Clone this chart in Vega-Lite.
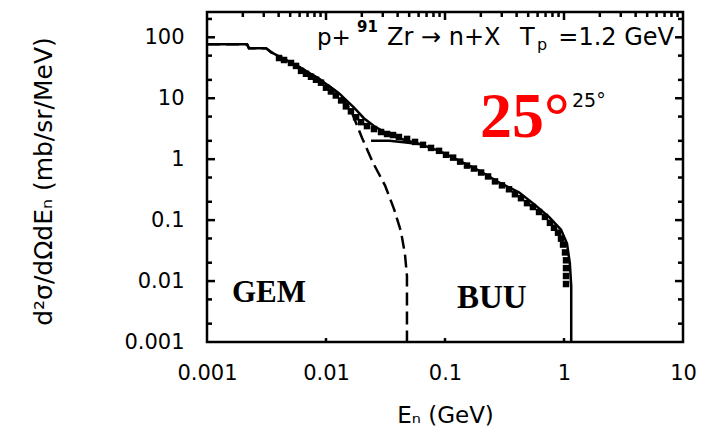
{
  "$schema": "https://vega.github.io/schema/vega-lite/v6.json",
  "autosize": "none",
  "width": 476,
  "height": 330,
  "padding": {"left": 207, "top": 12, "right": 20, "bottom": 87},
  "background": "white",
  "config": {
    "view": {"stroke": "black", "strokeWidth": 2.5},
    "axis": {"grid": false, "domain": false, "labelFont": "DejaVu Sans", "labelFontSize": 21, "labelColor": "black", "titleFont": "DejaVu Sans", "titleFontSize": 23, "titleFontWeight": "normal", "titleColor": "black"}
  },
  "datasets": {
    "exp": [
      {"E": 0.00403, "s": 45.7}, {"E": 0.00444, "s": 42.4}, {"E": 0.00508, "s": 37.9}, {"E": 0.0056, "s": 33.9},
      {"E": 0.00617, "s": 28.1}, {"E": 0.00679, "s": 25.2}, {"E": 0.00748, "s": 22.5}, {"E": 0.00824, "s": 20.1},
      {"E": 0.00908, "s": 18.0}, {"E": 0.01, "s": 14.9}, {"E": 0.011, "s": 12.9}, {"E": 0.0121, "s": 11.1},
      {"E": 0.0134, "s": 9.2}, {"E": 0.0147, "s": 7.35}, {"E": 0.0162, "s": 6.1}, {"E": 0.0179, "s": 4.88},
      {"E": 0.0197, "s": 4.05}, {"E": 0.0221, "s": 3.49}, {"E": 0.0253, "s": 3.12}, {"E": 0.029, "s": 2.79},
      {"E": 0.0326, "s": 2.59}, {"E": 0.0366, "s": 2.49}, {"E": 0.041, "s": 2.31}, {"E": 0.048, "s": 2.15},
      {"E": 0.056, "s": 1.92}, {"E": 0.0653, "s": 1.72}, {"E": 0.0763, "s": 1.53}, {"E": 0.0891, "s": 1.37},
      {"E": 0.102, "s": 1.18}, {"E": 0.117, "s": 1.06}, {"E": 0.134, "s": 0.912}, {"E": 0.153, "s": 0.785},
      {"E": 0.175, "s": 0.702}, {"E": 0.201, "s": 0.604}, {"E": 0.23, "s": 0.521}, {"E": 0.263, "s": 0.432},
      {"E": 0.301, "s": 0.372}, {"E": 0.345, "s": 0.321}, {"E": 0.387, "s": 0.266}, {"E": 0.435, "s": 0.229},
      {"E": 0.489, "s": 0.19}, {"E": 0.548, "s": 0.164}, {"E": 0.617, "s": 0.136}, {"E": 0.692, "s": 0.113},
      {"E": 0.762, "s": 0.0902}, {"E": 0.824, "s": 0.0748}, {"E": 0.891, "s": 0.0622}, {"E": 0.944, "s": 0.0497},
      {"E": 0.982, "s": 0.0397}, {"E": 1.02, "s": 0.0295}, {"E": 1.04, "s": 0.0219}, {"E": 1.04, "s": 0.0163},
      {"E": 1.04, "s": 0.0121}, {"E": 1.04, "s": 0.00894}
    ],
    "total": [
      {"E": 0.001, "s": 77.1}, {"E": 0.00217, "s": 77}, {"E": 0.00225, "s": 66.4}, {"E": 0.00313, "s": 66.4},
      {"E": 0.00345, "s": 57.2}, {"E": 0.00444, "s": 44.0}, {"E": 0.00593, "s": 32.7}, {"E": 0.00873, "s": 20.9},
      {"E": 0.0129, "s": 12.0}, {"E": 0.0172, "s": 7.0}, {"E": 0.0208, "s": 4.7}, {"E": 0.0253, "s": 3.5},
      {"E": 0.0307, "s": 2.8}, {"E": 0.041, "s": 2.2}, {"E": 0.0605, "s": 1.78}, {"E": 0.0891, "s": 1.37},
      {"E": 0.131, "s": 0.946}, {"E": 0.193, "s": 0.651}, {"E": 0.284, "s": 0.416}, {"E": 0.418, "s": 0.286},
      {"E": 0.56, "s": 0.183}, {"E": 0.748, "s": 0.113}, {"E": 0.944, "s": 0.0695}, {"E": 1.06, "s": 0.0412},
      {"E": 1.12, "s": 0.0195}, {"E": 1.15, "s": 0.0083}, {"E": 1.15, "s": 0.001}
    ],
    "gem": [
      {"E": 0.001, "s": 77.1}, {"E": 0.00217, "s": 77}, {"E": 0.00225, "s": 66.4}, {"E": 0.00313, "s": 66.4},
      {"E": 0.00345, "s": 57.2}, {"E": 0.00444, "s": 44.0}, {"E": 0.00593, "s": 32.7}, {"E": 0.00873, "s": 20.9},
      {"E": 0.0129, "s": 11.9}, {"E": 0.0162, "s": 6.33}, {"E": 0.0201, "s": 2.23}, {"E": 0.0248, "s": 0.877},
      {"E": 0.0313, "s": 0.372}, {"E": 0.0373, "s": 0.152}, {"E": 0.0427, "s": 0.0645}, {"E": 0.0461, "s": 0.0274},
      {"E": 0.0479, "s": 0.0121}, {"E": 0.0479, "s": 0.001}
    ],
    "buu": [
      {"E": 0.0239, "s": 2.0}, {"E": 0.034, "s": 2.0}, {"E": 0.045, "s": 1.9}, {"E": 0.0605, "s": 1.78}
    ],
    "xmajor": [{"v": 0.01}, {"v": 0.1}, {"v": 1}],
    "xminor": [
      {"v": 0.002}, {"v": 0.003}, {"v": 0.004}, {"v": 0.005}, {"v": 0.006}, {"v": 0.007}, {"v": 0.008}, {"v": 0.009},
      {"v": 0.02}, {"v": 0.03}, {"v": 0.04}, {"v": 0.05}, {"v": 0.06}, {"v": 0.07}, {"v": 0.08}, {"v": 0.09},
      {"v": 0.2}, {"v": 0.3}, {"v": 0.4}, {"v": 0.5}, {"v": 0.6}, {"v": 0.7}, {"v": 0.8}, {"v": 0.9},
      {"v": 2}, {"v": 3}, {"v": 4}, {"v": 5}, {"v": 6}, {"v": 7}, {"v": 8}, {"v": 9}
    ],
    "ymajor": [{"v": 0.01}, {"v": 0.1}, {"v": 1}, {"v": 10}, {"v": 100}],
    "yminor": [
      {"v": 0.002}, {"v": 0.005}, {"v": 0.02}, {"v": 0.05}, {"v": 0.2}, {"v": 0.5},
      {"v": 2}, {"v": 5}, {"v": 20}, {"v": 50}, {"v": 200}
    ]
  },
  "layer": [
    {
      "data": {"name": "gem"},
      "mark": {"type": "line", "color": "black", "strokeWidth": 2.5, "strokeDash": [13, 6], "clip": true},
      "encoding": {
        "x": {"field": "E", "type": "quantitative", "sort": null, "scale": {"type": "log", "domain": [0.001, 10]}, "axis": null},
        "y": {"field": "s", "type": "quantitative", "scale": {"type": "log", "domain": [0.001, 260]}, "axis": null}
      }
    },
    {
      "data": {"name": "total"},
      "mark": {"type": "line", "color": "black", "strokeWidth": 2.5, "clip": true},
      "encoding": {
        "x": {"field": "E", "type": "quantitative", "sort": null, "scale": {"type": "log", "domain": [0.001, 10]}, "axis": null},
        "y": {"field": "s", "type": "quantitative", "scale": {"type": "log", "domain": [0.001, 260]}, "axis": null}
      }
    },
    {
      "data": {"name": "buu"},
      "mark": {"type": "line", "color": "black", "strokeWidth": 2.5, "clip": true},
      "encoding": {
        "x": {"field": "E", "type": "quantitative", "sort": null, "scale": {"type": "log", "domain": [0.001, 10]}, "axis": null},
        "y": {"field": "s", "type": "quantitative", "scale": {"type": "log", "domain": [0.001, 260]}, "axis": null}
      }
    },
    {
      "data": {"name": "exp"},
      "mark": {"type": "square", "color": "black", "filled": true, "opacity": 1, "size": 42},
      "encoding": {
        "x": {"field": "E", "type": "quantitative", "scale": {"type": "log", "domain": [0.001, 10]},
              "axis": {"orient": "bottom", "values": [0.001, 0.01, 0.1, 1, 10], "format": "~g", "ticks": false, "labelPadding": 20, "labelFlush": false, "title": "Eₙ (GeV)", "titleY": 80, "titleBaseline": "alphabetic"}},
        "y": {"field": "s", "type": "quantitative", "scale": {"type": "log", "domain": [0.001, 260]},
              "axis": {"orient": "left", "values": [0.001, 0.01, 0.1, 1, 10, 100], "format": "~g", "ticks": false, "labelPadding": 23, "labelFlush": false, "title": "d²σ/dΩdEₙ (mb/sr/MeV)", "titleFontSize": 25, "titleAngle": -90, "titleX": -156, "titleY": 169, "titleAlign": "center", "titleBaseline": "alphabetic"}}
      }
    },
    {
      "data": {"name": "xmajor"},
      "mark": {"type": "rule", "color": "black", "strokeWidth": 2.5, "strokeCap": "butt"},
      "encoding": {
        "x": {"field": "v", "type": "quantitative", "scale": {"type": "log", "domain": [0.001, 10]}, "axis": null},
        "y": {"datum": 260, "type": "quantitative", "scale": {"type": "log", "domain": [0.001, 260]}, "axis": null},
        "y2": {"datum": 192}
      }
    },
    {
      "data": {"name": "xmajor"},
      "mark": {"type": "rule", "color": "black", "strokeWidth": 2.5, "strokeCap": "butt"},
      "encoding": {
        "x": {"field": "v", "type": "quantitative", "scale": {"type": "log", "domain": [0.001, 10]}, "axis": null},
        "y": {"datum": 0.001, "type": "quantitative", "scale": {"type": "log", "domain": [0.001, 260]}, "axis": null},
        "y2": {"datum": 0.00116}
      }
    },
    {
      "data": {"name": "xminor"},
      "mark": {"type": "rule", "color": "black", "strokeWidth": 2.5, "strokeCap": "butt"},
      "encoding": {
        "x": {"field": "v", "type": "quantitative", "scale": {"type": "log", "domain": [0.001, 10]}, "axis": null},
        "y": {"datum": 260, "type": "quantitative", "scale": {"type": "log", "domain": [0.001, 260]}, "axis": null},
        "y2": {"datum": 215}
      }
    },
    {
      "data": {"name": "ymajor"},
      "mark": {"type": "rule", "color": "black", "strokeWidth": 2.5, "strokeCap": "butt"},
      "encoding": {
        "x": {"datum": 0.001, "type": "quantitative", "scale": {"type": "log", "domain": [0.001, 10]}, "axis": null},
        "x2": {"datum": 0.001167},
        "y": {"field": "v", "type": "quantitative", "scale": {"type": "log", "domain": [0.001, 260]}, "axis": null}
      }
    },
    {
      "data": {"name": "ymajor"},
      "mark": {"type": "rule", "color": "black", "strokeWidth": 2.5, "strokeCap": "butt"},
      "encoding": {
        "x": {"datum": 10, "type": "quantitative", "scale": {"type": "log", "domain": [0.001, 10]}, "axis": null},
        "x2": {"datum": 8.57},
        "y": {"field": "v", "type": "quantitative", "scale": {"type": "log", "domain": [0.001, 260]}, "axis": null}
      }
    },
    {
      "data": {"name": "yminor"},
      "mark": {"type": "rule", "color": "black", "strokeWidth": 2.5, "strokeCap": "butt"},
      "encoding": {
        "x": {"datum": 0.001, "type": "quantitative", "scale": {"type": "log", "domain": [0.001, 10]}, "axis": null},
        "x2": {"datum": 0.001102},
        "y": {"field": "v", "type": "quantitative", "scale": {"type": "log", "domain": [0.001, 260]}, "axis": null}
      }
    },
    {
      "data": {"name": "yminor"},
      "mark": {"type": "rule", "color": "black", "strokeWidth": 2.5, "strokeCap": "butt"},
      "encoding": {
        "x": {"datum": 10, "type": "quantitative", "scale": {"type": "log", "domain": [0.001, 10]}, "axis": null},
        "x2": {"datum": 9.07},
        "y": {"field": "v", "type": "quantitative", "scale": {"type": "log", "domain": [0.001, 260]}, "axis": null}
      }
    },
    {
      "data": {"values": [{}]},
      "mark": {"type": "text", "text": "p+", "font": "DejaVu Sans", "fontSize": 23, "align": "left", "baseline": "alphabetic", "color": "black"},
      "encoding": {
        "x": {"datum": 0.0084, "type": "quantitative", "scale": {"type": "log", "domain": [0.001, 10]}, "axis": null},
        "y": {"datum": 74.7, "type": "quantitative", "scale": {"type": "log", "domain": [0.001, 260]}, "axis": null}
      }
    },
    {
      "data": {"values": [{}]},
      "mark": {"type": "text", "text": "91", "font": "DejaVu Sans", "fontSize": 15, "fontWeight": "bold", "align": "left", "baseline": "alphabetic", "color": "black"},
      "encoding": {
        "x": {"datum": 0.0182, "type": "quantitative", "scale": {"type": "log", "domain": [0.001, 10]}, "axis": null},
        "y": {"datum": 122, "type": "quantitative", "scale": {"type": "log", "domain": [0.001, 260]}, "axis": null}
      }
    },
    {
      "data": {"values": [{}]},
      "mark": {"type": "text", "text": "Zr → n+X", "font": "DejaVu Sans", "fontSize": 24, "align": "left", "baseline": "alphabetic", "color": "black"},
      "encoding": {
        "x": {"datum": 0.03256, "type": "quantitative", "scale": {"type": "log", "domain": [0.001, 10]}, "axis": null},
        "y": {"datum": 74.7, "type": "quantitative", "scale": {"type": "log", "domain": [0.001, 260]}, "axis": null}
      }
    },
    {
      "data": {"values": [{}]},
      "mark": {"type": "text", "text": "T", "font": "DejaVu Sans", "fontSize": 24, "align": "left", "baseline": "alphabetic", "color": "black"},
      "encoding": {
        "x": {"datum": 0.4269, "type": "quantitative", "scale": {"type": "log", "domain": [0.001, 10]}, "axis": null},
        "y": {"datum": 74.7, "type": "quantitative", "scale": {"type": "log", "domain": [0.001, 260]}, "axis": null}
      }
    },
    {
      "data": {"values": [{}]},
      "mark": {"type": "text", "text": "p", "font": "DejaVu Sans", "fontSize": 16, "align": "left", "baseline": "alphabetic", "color": "black"},
      "encoding": {
        "x": {"datum": 0.593, "type": "quantitative", "scale": {"type": "log", "domain": [0.001, 10]}, "axis": null},
        "y": {"datum": 63, "type": "quantitative", "scale": {"type": "log", "domain": [0.001, 260]}, "axis": null}
      }
    },
    {
      "data": {"values": [{}]},
      "mark": {"type": "text", "text": "=1.2 GeV", "font": "DejaVu Sans", "fontSize": 24, "align": "right", "baseline": "alphabetic", "color": "black"},
      "encoding": {
        "x": {"datum": 8.4, "type": "quantitative", "scale": {"type": "log", "domain": [0.001, 10]}, "axis": null},
        "y": {"datum": 74.7, "type": "quantitative", "scale": {"type": "log", "domain": [0.001, 260]}, "axis": null}
      }
    },
    {
      "data": {"values": [{}]},
      "mark": {"type": "text", "text": "25°", "font": "DejaVu Sans", "fontSize": 19, "align": "left", "baseline": "alphabetic", "color": "black"},
      "encoding": {
        "x": {"datum": 1.167, "type": "quantitative", "scale": {"type": "log", "domain": [0.001, 10]}, "axis": null},
        "y": {"datum": 7.18, "type": "quantitative", "scale": {"type": "log", "domain": [0.001, 260]}, "axis": null}
      }
    },
    {
      "data": {"values": [{}]},
      "mark": {"type": "text", "text": "25°", "font": "Liberation Serif", "fontSize": 64, "fontWeight": "bold", "align": "left", "baseline": "alphabetic", "color": "#ff0000"},
      "encoding": {
        "x": {"datum": 0.1968, "type": "quantitative", "scale": {"type": "log", "domain": [0.001, 10]}, "axis": null},
        "y": {"datum": 2.31, "type": "quantitative", "scale": {"type": "log", "domain": [0.001, 260]}, "axis": null}
      }
    },
    {
      "data": {"values": [{}]},
      "mark": {"type": "text", "text": "GEM", "font": "Liberation Serif", "fontSize": 31, "fontWeight": "bold", "align": "left", "baseline": "alphabetic", "color": "black"},
      "encoding": {
        "x": {"datum": 0.00162, "type": "quantitative", "scale": {"type": "log", "domain": [0.001, 10]}, "axis": null},
        "y": {"datum": 0.00453, "type": "quantitative", "scale": {"type": "log", "domain": [0.001, 260]}, "axis": null}
      }
    },
    {
      "data": {"values": [{}]},
      "mark": {"type": "text", "text": "BUU", "font": "Liberation Serif", "fontSize": 33, "fontWeight": "bold", "align": "left", "baseline": "alphabetic", "color": "black"},
      "encoding": {
        "x": {"datum": 0.1262, "type": "quantitative", "scale": {"type": "log", "domain": [0.001, 10]}, "axis": null},
        "y": {"datum": 0.00361, "type": "quantitative", "scale": {"type": "log", "domain": [0.001, 260]}, "axis": null}
      }
    }
  ],
  "resolve": {"axis": {"x": "independent", "y": "independent"}}
}
